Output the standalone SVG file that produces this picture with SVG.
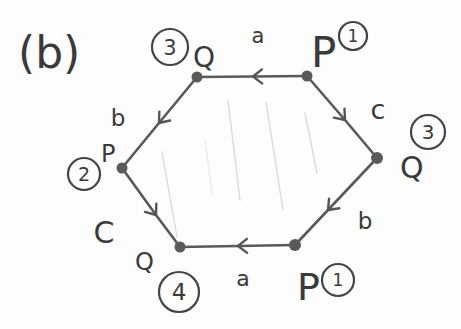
<svg xmlns="http://www.w3.org/2000/svg" width="461" height="329" viewBox="0 0 461 329">
<defs>
<marker id="chev" markerUnits="userSpaceOnUse" markerWidth="24" markerHeight="24" viewBox="-12 -12 24 24" refX="0" refY="0" orient="auto" overflow="visible">
<path d="M -9 -7 L 0 0 L -9 7" fill="none" stroke="#555" stroke-width="2.4" stroke-linecap="round" stroke-linejoin="round"/>
</marker>
</defs>
<style>
.bg{fill:#fdfdfd}
.edge{fill:none;stroke:#595959;stroke-width:2.6;stroke-linecap:round;marker-mid:url(#chev)}
.shade{fill:none;stroke:#dcdcd2;stroke-width:1.4;stroke-linecap:round}
.vtx{fill:#5a5a5a}
.t{font-family:"DejaVu Sans",sans-serif;fill:#3a3a3a}
.ring{fill:none;stroke:#444;stroke-width:2.2}
</style>
<rect class="bg" width="461" height="329"/>
<g id="shading">
<path class="shade" d="M228 100 L240 200"/>
<path class="shade" d="M266 102 L283 210"/>
<path class="shade" d="M305 113 L317 173"/>
<path class="shade" d="M162 152 L177 237"/>
<path class="shade" d="M205 140 L212 193" opacity="0.6"/>
</g>
<g id="connectors">
<polyline class="edge" points="307,76 253,76.5 197,77"/>
<polyline class="edge" points="197,77 159,123 122,168"/>
<polyline class="edge" points="307,76 345,120 377,158"/>
<polyline class="edge" points="377,158 328,210 295,245"/>
<polyline class="edge" points="295,245 238,246 180,247"/>
<polyline class="edge" points="122,168 156,215 180,247"/>
</g>
<g id="title"><text class="t" x="18" y="68" font-size="44">(b)</text></g>
<g id="v-top-left">
<circle class="vtx" cx="197" cy="77" r="5.5"/>
<circle class="ring" cx="170" cy="47" r="18"/>
<text class="t" x="170" y="55" font-size="21" text-anchor="middle">3</text>
<text class="t" x="193" y="67" font-size="28">Q</text>
</g>
<g id="v-top-right">
<circle class="vtx" cx="307" cy="76" r="5.5"/>
<text class="t" x="311" y="67" font-size="42">P</text>
<circle class="ring" cx="353" cy="36" r="14"/>
<text class="t" x="353" y="42" font-size="17" text-anchor="middle">1</text>
</g>
<g id="v-right">
<circle class="vtx" cx="377" cy="158" r="6"/>
<circle class="ring" cx="428" cy="132" r="17"/>
<text class="t" x="428" y="139" font-size="20" text-anchor="middle">3</text>
<text class="t" x="400" y="178" font-size="30">Q</text>
</g>
<g id="v-bottom-right">
<circle class="vtx" cx="295" cy="245" r="6"/>
<text class="t" x="297" y="300" font-size="38">P</text>
<circle class="ring" cx="338" cy="280" r="16"/>
<text class="t" x="338" y="286" font-size="17" text-anchor="middle">1</text>
</g>
<g id="v-bottom-left">
<circle class="vtx" cx="180" cy="247" r="5.5"/>
<text class="t" x="135" y="270" font-size="24">Q</text>
<circle class="ring" cx="179" cy="292" r="20"/>
<text class="t" x="179" y="300" font-size="23" text-anchor="middle">4</text>
</g>
<g id="v-left">
<circle class="vtx" cx="122" cy="168" r="5.5"/>
<text class="t" x="101" y="162" font-size="24">P</text>
<circle class="ring" cx="84" cy="174" r="16"/>
<text class="t" x="84" y="181" font-size="19" text-anchor="middle">2</text>
</g>
<g id="edge-labels">
<text class="t" x="258" y="43" font-size="21" text-anchor="middle">a</text>
<text class="t" x="118" y="126" font-size="23" text-anchor="middle">b</text>
<text class="t" x="378" y="119" font-size="27" text-anchor="middle">c</text>
<text class="t" x="365" y="229" font-size="23" text-anchor="middle">b</text>
<text class="t" x="243" y="286" font-size="22" text-anchor="middle">a</text>
<text class="t" x="104" y="243" font-size="30" text-anchor="middle">C</text>
</g>
</svg>
